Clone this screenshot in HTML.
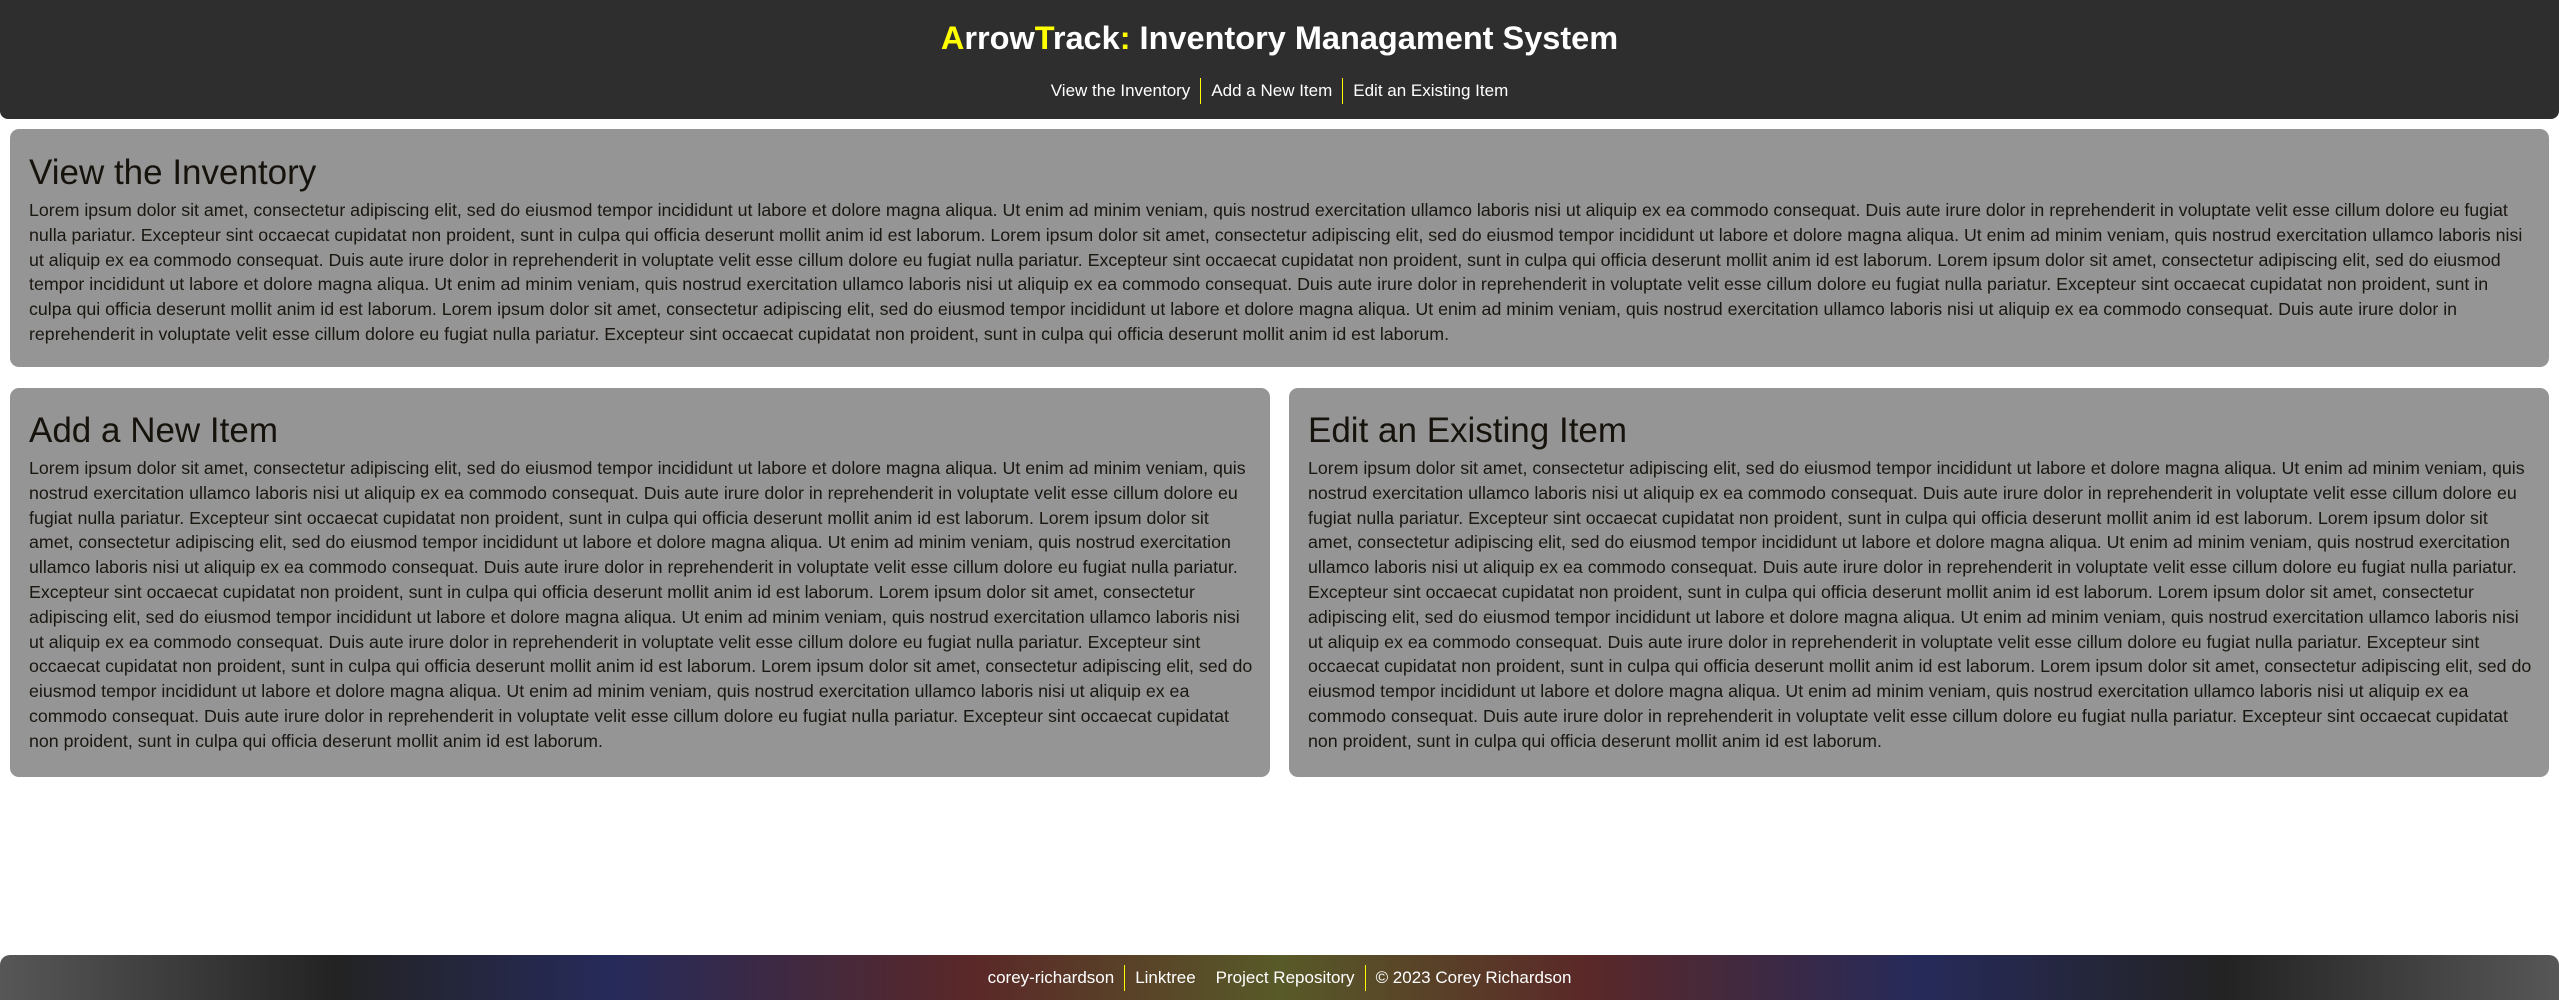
<!DOCTYPE html>
<html><head><meta charset="utf-8"><style>
*{margin:0;padding:0;box-sizing:border-box}
body{width:2559px;height:1000px;background:#fff;position:relative;overflow:hidden;font-family:"Liberation Sans",sans-serif}
header{position:absolute;left:0;top:0;width:2559px;height:119px;background:#2e2e2e;border-radius:0 0 8px 8px}
h1{position:absolute;left:0;width:100%;top:18px;text-align:center;color:#fff;font-size:32.5px;font-weight:bold;line-height:40px}
h1 .y{color:#ff0}
nav{position:absolute;left:0;width:100%;top:78px;text-align:center;font-size:17px;color:#fff;line-height:26px}
nav span{display:inline-block;padding:0 10px}
nav span+span{border-left:1px solid #ff0}
.box{position:absolute;background:#959595;border-radius:9px;color:#1a1610}
.box h2{position:absolute;left:19px;font-size:35px;font-weight:normal;line-height:46px;color:#16120c}
.box p{position:absolute;left:19px;right:14px;font-size:17.8px;line-height:24.8px}
footer{position:absolute;left:0;top:955px;width:2559px;height:45px;border-radius:10px 10px 0 0;
background:linear-gradient(90deg,#575757 0%,#232323 13%,#262a5a 24%,#5a2828 38%,#585a28 50%,#5a2828 62%,#262a5a 75%,#232323 87%,#575757 100%)}
footer div{position:absolute;left:0;width:100%;top:10px;text-align:center;color:#fff;font-size:17px;line-height:26px}
footer span{display:inline-block;padding:0 10px}
footer .s{border-left:1px solid #ff0}
</style></head><body>
<header>
<h1><span class="y">A</span>rrow<span class="y">T</span>rack<span class="y">:</span> Inventory Managament System</h1>
<nav><span>View the Inventory</span><span>Add a New Item</span><span>Edit an Existing Item</span></nav>
</header>

<div class="box" style="left:10px;top:129px;width:2539px;height:238px">
<h2 style="top:21px">View the Inventory</h2>
<p style="top:69px">Lorem ipsum dolor sit amet, consectetur adipiscing elit, sed do eiusmod tempor incididunt ut labore et dolore magna aliqua. Ut enim ad minim veniam, quis nostrud exercitation ullamco laboris nisi ut aliquip ex ea commodo consequat. Duis aute irure dolor in reprehenderit in voluptate velit esse cillum dolore eu fugiat nulla pariatur. Excepteur sint occaecat cupidatat non proident, sunt in culpa qui officia deserunt mollit anim id est laborum. Lorem ipsum dolor sit amet, consectetur adipiscing elit, sed do eiusmod tempor incididunt ut labore et dolore magna aliqua. Ut enim ad minim veniam, quis nostrud exercitation ullamco laboris nisi ut aliquip ex ea commodo consequat. Duis aute irure dolor in reprehenderit in voluptate velit esse cillum dolore eu fugiat nulla pariatur. Excepteur sint occaecat cupidatat non proident, sunt in culpa qui officia deserunt mollit anim id est laborum. Lorem ipsum dolor sit amet, consectetur adipiscing elit, sed do eiusmod tempor incididunt ut labore et dolore magna aliqua. Ut enim ad minim veniam, quis nostrud exercitation ullamco laboris nisi ut aliquip ex ea commodo consequat. Duis aute irure dolor in reprehenderit in voluptate velit esse cillum dolore eu fugiat nulla pariatur. Excepteur sint occaecat cupidatat non proident, sunt in culpa qui officia deserunt mollit anim id est laborum. Lorem ipsum dolor sit amet, consectetur adipiscing elit, sed do eiusmod tempor incididunt ut labore et dolore magna aliqua. Ut enim ad minim veniam, quis nostrud exercitation ullamco laboris nisi ut aliquip ex ea commodo consequat. Duis aute irure dolor in reprehenderit in voluptate velit esse cillum dolore eu fugiat nulla pariatur. Excepteur sint occaecat cupidatat non proident, sunt in culpa qui officia deserunt mollit anim id est laborum.</p>
</div>

<div class="box" style="left:10px;top:388px;width:1260px;height:389px">
<h2 style="top:20px">Add a New Item</h2>
<p style="top:68px">Lorem ipsum dolor sit amet, consectetur adipiscing elit, sed do eiusmod tempor incididunt ut labore et dolore magna aliqua. Ut enim ad minim veniam, quis nostrud exercitation ullamco laboris nisi ut aliquip ex ea commodo consequat. Duis aute irure dolor in reprehenderit in voluptate velit esse cillum dolore eu fugiat nulla pariatur. Excepteur sint occaecat cupidatat non proident, sunt in culpa qui officia deserunt mollit anim id est laborum. Lorem ipsum dolor sit amet, consectetur adipiscing elit, sed do eiusmod tempor incididunt ut labore et dolore magna aliqua. Ut enim ad minim veniam, quis nostrud exercitation ullamco laboris nisi ut aliquip ex ea commodo consequat. Duis aute irure dolor in reprehenderit in voluptate velit esse cillum dolore eu fugiat nulla pariatur. Excepteur sint occaecat cupidatat non proident, sunt in culpa qui officia deserunt mollit anim id est laborum. Lorem ipsum dolor sit amet, consectetur adipiscing elit, sed do eiusmod tempor incididunt ut labore et dolore magna aliqua. Ut enim ad minim veniam, quis nostrud exercitation ullamco laboris nisi ut aliquip ex ea commodo consequat. Duis aute irure dolor in reprehenderit in voluptate velit esse cillum dolore eu fugiat nulla pariatur. Excepteur sint occaecat cupidatat non proident, sunt in culpa qui officia deserunt mollit anim id est laborum. Lorem ipsum dolor sit amet, consectetur adipiscing elit, sed do eiusmod tempor incididunt ut labore et dolore magna aliqua. Ut enim ad minim veniam, quis nostrud exercitation ullamco laboris nisi ut aliquip ex ea commodo consequat. Duis aute irure dolor in reprehenderit in voluptate velit esse cillum dolore eu fugiat nulla pariatur. Excepteur sint occaecat cupidatat non proident, sunt in culpa qui officia deserunt mollit anim id est laborum.</p>
</div>

<div class="box" style="left:1289px;top:388px;width:1260px;height:389px">
<h2 style="top:20px">Edit an Existing Item</h2>
<p style="top:68px">Lorem ipsum dolor sit amet, consectetur adipiscing elit, sed do eiusmod tempor incididunt ut labore et dolore magna aliqua. Ut enim ad minim veniam, quis nostrud exercitation ullamco laboris nisi ut aliquip ex ea commodo consequat. Duis aute irure dolor in reprehenderit in voluptate velit esse cillum dolore eu fugiat nulla pariatur. Excepteur sint occaecat cupidatat non proident, sunt in culpa qui officia deserunt mollit anim id est laborum. Lorem ipsum dolor sit amet, consectetur adipiscing elit, sed do eiusmod tempor incididunt ut labore et dolore magna aliqua. Ut enim ad minim veniam, quis nostrud exercitation ullamco laboris nisi ut aliquip ex ea commodo consequat. Duis aute irure dolor in reprehenderit in voluptate velit esse cillum dolore eu fugiat nulla pariatur. Excepteur sint occaecat cupidatat non proident, sunt in culpa qui officia deserunt mollit anim id est laborum. Lorem ipsum dolor sit amet, consectetur adipiscing elit, sed do eiusmod tempor incididunt ut labore et dolore magna aliqua. Ut enim ad minim veniam, quis nostrud exercitation ullamco laboris nisi ut aliquip ex ea commodo consequat. Duis aute irure dolor in reprehenderit in voluptate velit esse cillum dolore eu fugiat nulla pariatur. Excepteur sint occaecat cupidatat non proident, sunt in culpa qui officia deserunt mollit anim id est laborum. Lorem ipsum dolor sit amet, consectetur adipiscing elit, sed do eiusmod tempor incididunt ut labore et dolore magna aliqua. Ut enim ad minim veniam, quis nostrud exercitation ullamco laboris nisi ut aliquip ex ea commodo consequat. Duis aute irure dolor in reprehenderit in voluptate velit esse cillum dolore eu fugiat nulla pariatur. Excepteur sint occaecat cupidatat non proident, sunt in culpa qui officia deserunt mollit anim id est laborum.</p>
</div>

<footer><div><span>corey-richardson</span><span class="s">Linktree</span><span>Project Repository</span><span class="s">© 2023 Corey Richardson</span></div></footer>
</body></html>
